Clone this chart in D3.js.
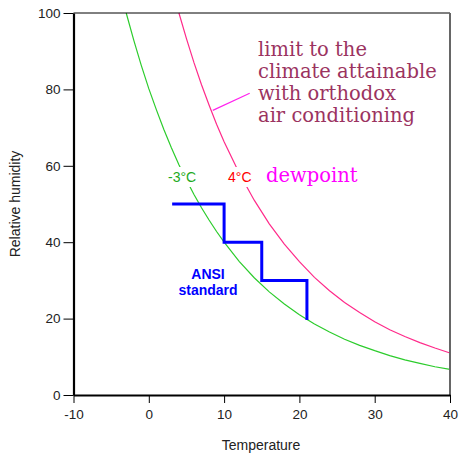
<!DOCTYPE html>
<html>
<head>
<meta charset="utf-8">
<script src="https://cdn.jsdelivr.net/npm/d3@7"></script>
<style>
  html, body { margin: 0; padding: 0; background: #fff; }
  svg { display: block; }
</style>
</head>
<body>
<svg id="chart" width="459" height="455"></svg>
<script>
// ---- data ----
const greenTemp = [-3, -2, -1, 0, 1, 2, 3, 4, 5, 6, 7, 8, 9, 10, 12, 14, 16, 18, 20, 22, 24, 26, 28, 30, 32, 34, 36, 38, 40];
const greenRH   = [100, 92.9, 86.3, 80.2, 74.7, 69.5, 64.7, 60.3, 56.3, 52.5, 49.0, 45.8, 42.8, 40.0, 35.0, 30.7, 27.0, 23.8, 21.0, 18.6, 16.5, 14.6, 13.0, 11.6, 10.3, 9.2, 8.3, 7.4, 6.7];
const redTemp   = [4, 5, 6, 7, 8, 9, 10, 12, 14, 16, 18, 20, 22, 24, 26, 28, 30, 32, 34, 36, 38, 40];
const redRH     = [100, 93.3, 87.0, 81.2, 75.9, 70.9, 66.3, 58.1, 51.0, 44.8, 39.5, 34.9, 30.8, 27.3, 24.2, 21.6, 19.2, 17.1, 15.3, 13.7, 12.3, 11.0];
const ansiTemp  = [3.3, 10, 10, 15, 15, 21, 21];
const ansiRH    = [50, 50, 40, 40, 30, 30, 20];
const pointerTemp = [8.5, 13.4];
const pointerRH   = [74.5, 79];
const xTicks = [-10, 0, 10, 20, 30, 40];
const yTicks = [0, 20, 40, 60, 80, 100];
const limitLines = ["limit to the", "climate attainable", "with orthodox", "air conditioning"];
const greenLabel = "-3°C";
const redLabel = "4°C";
const dewLabel = "dewpoint";
const ansiLines = ["ANSI", "standard"];
const xTitle = "Temperature";
const yTitle = "Relative humidity";

// ---- layout ----
const svg = d3.select("#chart");
const L = 73.5, R = 450, T = 13, B = 395;
const x = d3.scaleLinear().domain([-10, 40]).range([L, R]);
const y = d3.scaleLinear().domain([0, 100]).range([B, T]);
const sans = "Arial, 'Liberation Sans', sans-serif";
const serif = "'DejaVu Serif', serif";

const line = d3.line().x(d => x(d[0])).y(d => y(d[1]));

// curves
svg.append("path")
  .attr("d", line(greenTemp.map((t, i) => [t, greenRH[i]])))
  .attr("fill", "none").attr("stroke", "#2ccc2c").attr("stroke-width", 1.2);
svg.append("path")
  .attr("d", line(redTemp.map((t, i) => [t, redRH[i]])))
  .attr("fill", "none").attr("stroke", "#ff2a8a").attr("stroke-width", 1.2);

// pointer line for annotation
svg.append("path")
  .attr("d", line(pointerTemp.map((t, i) => [t, pointerRH[i]])))
  .attr("fill", "none").attr("stroke", "#ff22ee").attr("stroke-width", 1.2);

// ANSI step
svg.append("path")
  .attr("d", line(ansiTemp.map((t, i) => [t, ansiRH[i]])))
  .attr("fill", "none").attr("stroke", "#0000ff").attr("stroke-width", 3)
  .attr("stroke-linejoin", "miter").attr("stroke-linecap", "square");

// curve labels with white backgrounds (interrupting curves)
function bgLabel(txt, xPos, yBase, color) {
  const g = svg.append("g");
  const t = g.append("text").attr("x", xPos).attr("y", yBase)
    .attr("font-family", sans).attr("font-size", 14).attr("fill", color).text(txt);
  const bb = t.node().getBBox();
  g.insert("rect", "text").attr("x", bb.x - 2).attr("y", bb.y - 2)
    .attr("width", bb.width + 4).attr("height", bb.height + 4).attr("fill", "#fff");
}
bgLabel(greenLabel, 168, 182, "#22aa22");
bgLabel(redLabel, 228, 182, "#ff0000");

svg.append("text").attr("x", 266).attr("y", 182)
  .attr("font-family", serif).attr("font-size", 19.5).attr("fill", "#ff00ff").text(dewLabel);

svg.append("g").selectAll("text").data(limitLines).join("text")
  .attr("x", 258).attr("y", (d, i) => 56 + i * 22)
  .attr("font-family", serif).attr("font-size", 19.5).attr("fill", "#9b3360").text(d => d);

svg.append("g").selectAll("text").data(ansiLines).join("text")
  .attr("x", 208).attr("y", (d, i) => 279 + i * 16)
  .attr("text-anchor", "middle").attr("font-family", sans).attr("font-weight", "bold")
  .attr("font-size", 14).attr("fill", "#0000ff").text(d => d);

// frame: top and right
svg.append("line").attr("x1", L).attr("x2", R).attr("y1", T).attr("y2", T)
  .attr("stroke", "#000").attr("stroke-width", 1);
svg.append("line").attr("x1", R).attr("x2", R).attr("y1", T).attr("y2", B)
  .attr("stroke", "#666").attr("stroke-width", 2);

// axes
const fmt = d => String(d);
const xAxis = svg.append("g").attr("transform", `translate(0,${B})`)
  .call(d3.axisBottom(x).tickValues(xTicks).tickFormat(fmt).tickSize(8).tickPadding(6).tickSizeOuter(0));
const yAxis = svg.append("g").attr("transform", `translate(${L},0)`)
  .call(d3.axisLeft(y).tickValues(yTicks).tickFormat(fmt).tickSize(10).tickPadding(3).tickSizeOuter(0));
[xAxis, yAxis].forEach(a => {
  a.select(".domain").attr("stroke", "#000").attr("stroke-width", 2.2);
  a.selectAll(".tick line").attr("stroke", "#000").attr("stroke-width", 1);
  a.selectAll(".tick text").attr("font-family", sans).attr("font-size", 13.5).attr("fill", "#222");
});

// axis titles
svg.append("text").attr("x", 261).attr("y", 450).attr("text-anchor", "middle")
  .attr("font-family", sans).attr("font-size", 14).attr("fill", "#222").text(xTitle);
svg.append("text").attr("transform", "translate(20,204) rotate(-90)").attr("text-anchor", "middle")
  .attr("font-family", sans).attr("font-size", 14).attr("fill", "#222").text(yTitle);
</script>
</body>
</html>
